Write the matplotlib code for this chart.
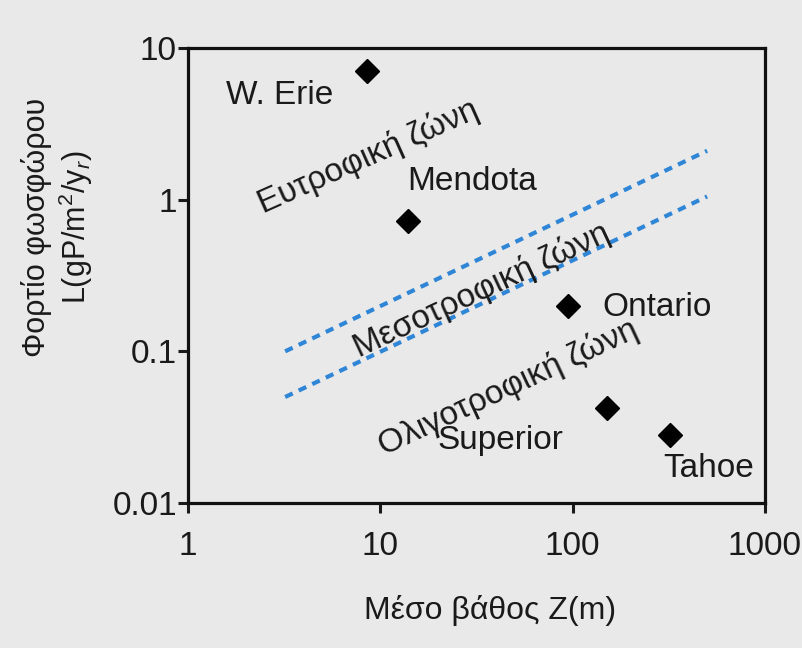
import matplotlib
matplotlib.use("Agg")
import matplotlib.pyplot as plt

plt.rcParams['font.family'] = ['Liberation Sans', 'DejaVu Sans']
plt.rcParams['mathtext.fontset'] = 'custom'
plt.rcParams['mathtext.rm'] = 'Liberation Sans'
plt.rcParams['mathtext.it'] = 'Liberation Sans:italic'

# ---- data ----
lakes = ["W. Erie", "Mendota", "Ontario", "Superior", "Tahoe"]
depth = [8.5, 14, 95, 150, 320]         # mean depth Z (m)
load = [7.0, 0.72, 0.20, 0.042, 0.028]  # phosphorus load L (gP/m2/yr)

line_z = [3.2, 500]
upper_L = [0.1, 2.1]     # eutrophic / mesotrophic boundary
lower_L = [0.05, 1.05]   # mesotrophic / oligotrophic boundary

xticks = [1, 10, 100, 1000]
xticklabels = ["1", "10", "100", "1000"]
yticks = [0.01, 0.1, 1, 10]
yticklabels = ["0.01", "0.1", "1", "10"]

zone_labels = ["Ευτροφική ζώνη", "Μεσοτροφική ζώνη", "Ολιγοτροφική ζώνη"]

# label offsets (pixels) relative to each marker
offsets = [(-87, -24), (64, 40), (89, -2), (-106, -32), (39, -33)]

bg = "#e9e9e9"
fig = plt.figure(figsize=(8.03, 6.48), dpi=100, facecolor=bg)
ax = fig.add_axes([188/803, 1-503/648, 577/803, 455/648])
ax.set_facecolor(bg)
ax.set_xscale("log")
ax.set_yscale("log")
ax.set_xlim(1, 1000)
ax.set_ylim(0.01, 10)

lc = "#2f86d6"
ax.plot(line_z, upper_L, color=lc, lw=3, dashes=(2.0, 1.6))
ax.plot(line_z, lower_L, color=lc, lw=3, dashes=(2.0, 1.6))

ax.plot(depth, load, linestyle="none", marker="D", color="black", markersize=12)

fs = 24
for name, z, l, off in zip(lakes, depth, load, offsets):
    ax.annotate(name, xy=(z, l), xytext=off, textcoords="offset pixels",
                ha="center", va="center", fontsize=fs, color="#1a1a1a")

def fx(px):
    return (px - 188) / 577
def fy(py):
    return (503 - py) / 455

zone_pos = [(368, 157, 24), (482, 290, 25), (508, 388, 25)]
for lab, (px, py, rot) in zip(zone_labels, zone_pos):
    ax.text(fx(px), fy(py), lab, transform=ax.transAxes, rotation=rot,
            ha="center", va="center", fontsize=fs, color="#1a1a1a",
            rotation_mode="anchor")

ax.set_xticks(xticks)
ax.set_xticklabels(xticklabels)
ax.set_yticks(yticks)
ax.set_yticklabels(yticklabels)
ax.minorticks_off()
ax.tick_params(axis="both", direction="out", width=2.2, length=7,
               labelsize=24, colors="#1a1a1a")
ax.tick_params(axis="x", pad=13)
ax.tick_params(axis="y", pad=1)
for s in ax.spines.values():
    s.set_linewidth(2.3)
    s.set_color("#111111")

fig.text(490/803, 1-610/648, "Μέσο βάθος Z(m)", ha="center", va="center",
         fontsize=23, color="#1a1a1a")
fig.text(58/803, 1-227/648, "Φορτίο φωσφώρου\nL(gP/m$^2$/y$_r$)", rotation=90,
         ha="center", va="center", multialignment="center", fontsize=22,
         color="#1a1a1a", linespacing=1.15)

fig.savefig("out.png", dpi=100, facecolor=bg)
